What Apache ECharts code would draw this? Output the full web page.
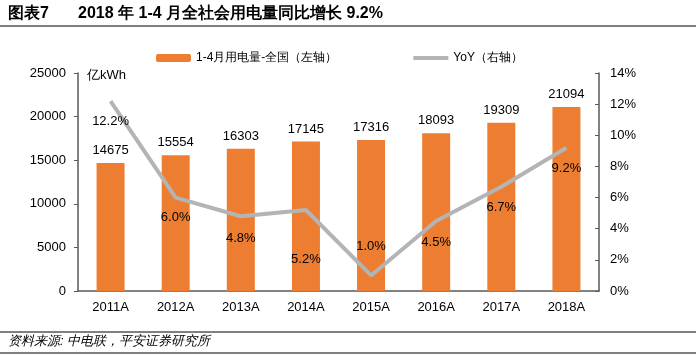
<!DOCTYPE html>
<html><head><meta charset="utf-8">
<script src="https://cdn.jsdelivr.net/npm/echarts@6/dist/echarts.min.js"></script>
<style>html,body{margin:0;padding:0;background:#fff}#c{width:696px;height:355px}</style>
</head><body><div id="c"></div>
<script>
const categories = ['2011A','2012A','2013A','2014A','2015A','2016A','2017A','2018A'];
const consumption = [14675,15554,16303,17145,17316,18093,19309,21094];
const yoy = [12.2,6.0,4.8,5.2,1.0,4.5,6.7,9.2];
const leftTicks = [0,5000,10000,15000,20000,25000];
const rightTicks = [0,2,4,6,8,10,12,14];

const chart = echarts.init(document.getElementById('c'));
const F = 'Liberation Sans, Arial, sans-serif';
const yoyPos = ['bottom','bottom','bottom','bottom','top','bottom','bottom','bottom'];
const yoyDist = [14,13,16,43,22,15,14,14];
chart.setOption({
  animation:false,
  textStyle:{fontFamily:F},
  graphic:[
    {type:'text',left:8,top:6,style:{text:'图表7',font:'bold 16px '+F,fill:'#000'}},
    {type:'text',left:78,top:6,style:{text:'2018 年 1-4 月全社会用电量同比增长 9.2%',font:'bold 16px '+F,fill:'#000'}},
    {type:'line',shape:{x1:0,y1:26,x2:696,y2:26},style:{stroke:'#000',lineWidth:1}},
    {type:'text',left:87,top:69,style:{text:'亿kWh',font:'13px '+F,fill:'#000'}},
    {type:'line',shape:{x1:0,y1:332,x2:696,y2:332},style:{stroke:'#000',lineWidth:1}},
    {type:'text',left:8,top:335,style:{text:'资料来源: 中电联，平安证券研究所',font:'italic 13px '+F,fill:'#000'}},
    {type:'line',shape:{x1:0,y1:353,x2:696,y2:353},style:{stroke:'#000',lineWidth:1}}
  ],
  legend:{
    top:47,left:151,itemGap:76,itemWidth:35,itemHeight:8,
    textStyle:{fontFamily:F,fontSize:12,color:'#000'},
    data:[{name:'1-4月用电量-全国（左轴）',icon:'roundRect'},
          {name:'YoY（右轴）',icon:'path://M0,0 L35,0 L35,4 L0,4 Z',itemStyle:{color:'#B4B4B4'}}]
  },
  grid:{left:78,right:97,top:73,bottom:64},
  xAxis:{type:'category',data:categories,
    axisLine:{lineStyle:{color:'#595959',width:1.5}},axisTick:{show:false},
    axisLabel:{color:'#000',fontSize:13,fontFamily:F,margin:10}},
  yAxis:[
    {type:'value',min:0,max:25000,interval:5000,
     axisLine:{show:true,lineStyle:{color:'#595959',width:1.5}},
     axisTick:{show:true,length:4,lineStyle:{color:'#595959'}},
     splitLine:{show:false},
     axisLabel:{color:'#000',fontSize:13,fontFamily:F,margin:12,formatter:v=>String(v)}},
    {type:'value',min:0,max:14,interval:2,
     axisLine:{show:true,lineStyle:{color:'#595959',width:1.5}},
     axisTick:{show:true,inside:true,length:4,lineStyle:{color:'#595959'}},
     splitLine:{show:false},
     axisLabel:{color:'#000',fontSize:13,fontFamily:F,margin:11,formatter:v=>v+'%'}}
  ],
  series:[
    {name:'1-4月用电量-全国（左轴）',type:'bar',data:consumption,barWidth:28,
     itemStyle:{color:'#ED7D31'},
     label:{show:true,position:'top',distance:6,color:'#000',fontSize:13,fontFamily:F}},
    {name:'YoY（右轴）',type:'line',yAxisIndex:1,z:5,
     data:yoy.map((v,i)=>({value:v,label:{show:true,position:yoyPos[i],distance:yoyDist[i]}})),
     symbol:'circle',symbolSize:0.1,showSymbol:true,
     lineStyle:{color:'#B4B4B4',width:4},itemStyle:{color:'#B4B4B4'},
     label:{show:true,color:'#000',fontSize:13,fontFamily:F,formatter:p=>p.value.toFixed(1)+'%'}}
  ]
});
</script></body></html>
